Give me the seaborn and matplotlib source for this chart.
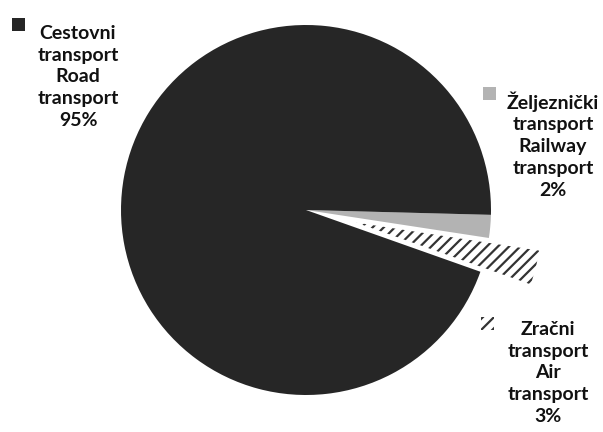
import matplotlib
matplotlib.use('Agg')
import matplotlib.pyplot as plt
from matplotlib.patches import Rectangle
import seaborn as sns

# slice order follows the drawing order (clockwise from just below 3 o'clock)
categories = ['Željeznički transport', 'Zračni transport', 'Cestovni transport']
categories_en = ['Railway transport', 'Air transport', 'Road transport']
values = [2, 3, 95]
colors = ['#b3b3b3', '#ffffff', '#262626']
hatches = ['', '///', '']
explode = [0, 0.28, 0]

sns.set_theme(style='white')
plt.rcParams['font.family'] = ['Lato', 'DejaVu Sans']
plt.rcParams['hatch.linewidth'] = 1.6

W, H = 603, 432
fig = plt.figure(figsize=(W / 100, H / 100), dpi=100)
cx, cy, r = 306, 210, 185
ax = fig.add_axes([(cx - r) / W, (H - cy - r) / H, 2 * r / W, 2 * r / H])

wedges, _ = ax.pie(values, colors=colors, explode=explode, startangle=-1.5,
                   counterclock=False, radius=1,
                   wedgeprops=dict(linewidth=0))
for w, h in zip(wedges, hatches):
    w.set_clip_on(False)
    if h:
        w.set_hatch(h)
        w.set_edgecolor('#333333')
        w.set_linewidth(0)
ax.set_xlim(-1, 1)
ax.set_ylim(-1, 1)
ax.set_aspect('equal')
ax.axis('off')

total = sum(values)


def label_text(i):
    hr = categories[i].split(' ')
    en = categories_en[i].split(' ')
    return '\n'.join(hr + en + [f'{values[i] / total:.0%}'])


# label placement (pixel centres), marker boxes (pixel left, top, size)
layout = {
    2: ((78, 77), (12, 18)),
    0: ((553, 145), (483, 87)),
    1: ((548, 373), (481, 317)),
}
for i, ((tx, ty), (mx, my)) in layout.items():
    fig.text(tx / W, 1 - ty / H, label_text(i), ha='center', va='center',
             fontsize=14, fontweight='bold', color='#111111', linespacing=1.34)
    box = Rectangle((mx / W, 1 - (my + 13) / H), 13 / W, 13 / H,
                    transform=fig.transFigure, facecolor=colors[i],
                    edgecolor='#333333' if hatches[i] else colors[i],
                    hatch=hatches[i] or None, linewidth=0)
    fig.patches.append(box)

fig.savefig('out.png', dpi=100)
